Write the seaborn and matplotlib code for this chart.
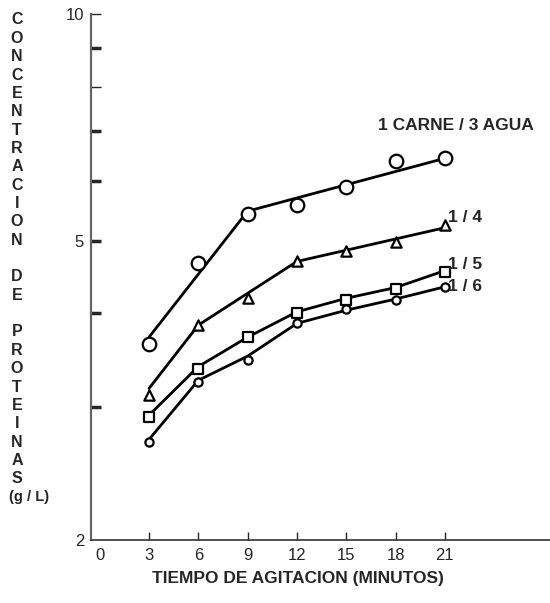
import numpy as np
import pandas as pd
import matplotlib
matplotlib.use("Agg")
import matplotlib.pyplot as plt
import seaborn as sns

# ==========================================
# Data
# ==========================================
tiempo = [3, 6, 9, 12, 15, 18, 21]

serie_13 = [3.64, 4.67, 5.42, 5.57, 5.89, 6.38, 6.43]
serie_14 = [3.12, 3.86, 4.20, 4.69, 4.84, 4.98, 5.24]
serie_15 = [2.91, 3.38, 3.72, 4.01, 4.17, 4.31, 4.54]
serie_16 = [2.70, 3.24, 3.47, 3.88, 4.05, 4.17, 4.34]

# fitted lines drawn through the points (nodes)
linea_13_x = [3, 9, 21]
linea_13_y = [3.72, 5.47, 6.43]
linea_14_x = [3, 6, 12, 21]
linea_14_y = [3.18, 3.86, 4.69, 5.20]
linea_15_x = [3, 6, 9, 12, 15, 18, 21]
linea_15_y = [2.93, 3.40, 3.72, 4.02, 4.19, 4.33, 4.56]
linea_16_x = [3, 6, 9, 12, 15, 18, 21]
linea_16_y = [2.72, 3.26, 3.51, 3.88, 4.04, 4.18, 4.34]

nombres = ["1/3", "1/4", "1/5", "1/6"]
etiquetas = ["1 CARNE / 3 AGUA", "1 / 4", "1 / 5", "1 / 6"]

x_ticks = [0, 3, 6, 9, 12, 15, 18, 21]
y_ticks = [2, 3, 4, 5, 6, 7, 8, 9, 10]
y_tick_labels = ["2", "", "", "5", "", "", "", "", "10"]

ylabel_lines = list("CONCENTRACION") + [""] + list("DE") + [""] + \
    list("PROTEINAS") + ["(g / L)"]

# ==========================================
# Tables for seaborn
# ==========================================
puntos = pd.DataFrame({
    "t": tiempo * 4,
    "c": serie_13 + serie_14 + serie_15 + serie_16,
    "serie": sum([[n] * len(tiempo) for n in nombres], []),
})
lineas = pd.DataFrame({
    "t": linea_13_x + linea_14_x + linea_15_x + linea_16_x,
    "c": linea_13_y + linea_14_y + linea_15_y + linea_16_y,
    "serie": ["1/3"] * len(linea_13_x) + ["1/4"] * len(linea_14_x)
    + ["1/5"] * len(linea_15_x) + ["1/6"] * len(linea_16_x),
})

marcadores = {"1/3": "o", "1/4": "^", "1/5": "s", "1/6": "o"}
tamanos = {"1/3": 95, "1/4": 55, "1/5": 45, "1/6": 35}

# ==========================================
# Figure
# ==========================================
sns.set_style("white")
plt.rcParams["font.family"] = ["Liberation Sans", "DejaVu Sans"]

fig = plt.figure(figsize=(5.5, 6.03), dpi=100)
ax = fig.add_axes([91 / 550, 1 - 540 / 603, 1 - 91 / 550, (540 - 14) / 603])

for n in nombres:
    sub = lineas[lineas["serie"] == n]
    sns.lineplot(data=sub, x="t", y="c", color="black", linewidth=2.0,
                 estimator=None, sort=True, ax=ax, zorder=2)

for n in nombres:
    sub = puntos[puntos["serie"] == n]
    sns.scatterplot(data=sub, x="t", y="c", marker=marcadores[n],
                    s=tamanos[n], color="white", edgecolor="black",
                    linewidth=1.6, ax=ax, zorder=3, legend=False)

ax.set_yscale("log")
ax.set_ylim(2, 10)
ax.set_xlim(-0.53, 27.4)

ax.set_yticks(y_ticks)
ax.set_yticklabels(y_tick_labels)
ax.yaxis.set_minor_locator(matplotlib.ticker.NullLocator())
ax.set_xticks(x_ticks)
ax.set_xticklabels([str(v) for v in x_ticks])

ax.tick_params(axis="y", direction="in", length=7, width=2.5,
               labelsize=12, pad=5, left=True)
ax.tick_params(axis="x", direction="in", length=6, width=1,
               labelsize=12, pad=6, bottom=True)
ax.xaxis.get_major_ticks()[0].tick1line.set_visible(False)
ax.yaxis.get_major_ticks()[0].tick1line.set_visible(False)
ax.yaxis.get_major_ticks()[6].tick1line.set_markeredgewidth(1)
ax.yaxis.get_major_ticks()[8].tick1line.set_markeredgewidth(1)

for s in ["top", "right"]:
    ax.spines[s].set_visible(False)
ax.spines["left"].set_color("#666666")
ax.spines["left"].set_linewidth(1.6)
ax.spines["bottom"].set_color("#333333")
ax.spines["bottom"].set_linewidth(1.2)

ax.set_xlabel("TIEMPO DE AGITACION (MINUTOS)", fontsize=12.5,
              fontweight="bold", labelpad=8)
ax.xaxis.set_label_coords((298 - 91) / (550 - 91), -0.058)
ax.set_ylabel("")

# series labels
ax.text(16.93, 7.12, etiquetas[0], fontsize=12.5, fontweight="bold",
        va="center", ha="left")
ax.text(21.19, 5.37, etiquetas[1], fontsize=12.5, fontweight="bold",
        va="center", ha="left")
ax.text(21.19, 4.64, etiquetas[2], fontsize=12.5, fontweight="bold",
        va="center", ha="left")
ax.text(21.19, 4.34, etiquetas[3], fontsize=12.5, fontweight="bold",
        va="center", ha="left")

# vertical stacked y label
for i, letra in enumerate(ylabel_lines):
    y_px = 20 + i * 18.35
    if letra.startswith("("):
        fig.text(9 / 550, 1 - y_px / 603, letra, fontsize=10.5,
                 fontweight="bold", ha="left", va="center")
    else:
        fig.text(17 / 550, 1 - y_px / 603, letra, fontsize=11.5,
                 fontweight="bold", ha="center", va="center")

fig.savefig("out.png", dpi=100)
plt.close()
